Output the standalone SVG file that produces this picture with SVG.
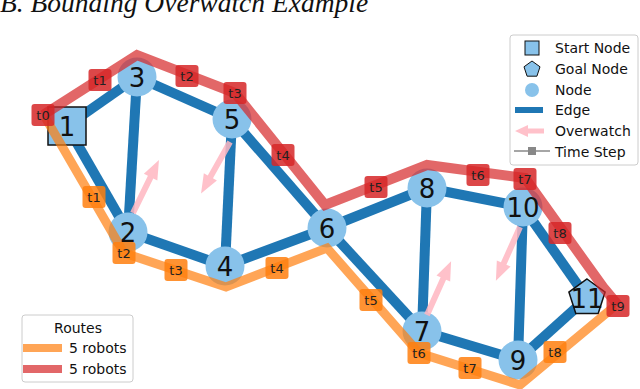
<svg xmlns="http://www.w3.org/2000/svg" xmlns:xlink="http://www.w3.org/1999/xlink" width="640" height="389" viewBox="0 0 640 389">
<style>
.edge{stroke:#1f77b4;stroke-width:10;stroke-linecap:butt;fill:none}
.node{fill:#88c2ea}
.nl{font-family:"DejaVu Sans",sans-serif;font-size:26px;fill:#111;text-anchor:middle;dominant-baseline:central}
.red{stroke:#d62728;stroke-opacity:0.7;stroke-width:10;fill:none;stroke-linejoin:miter}
.org{stroke:#ff7f0e;stroke-opacity:0.7;stroke-width:9;fill:none;stroke-linejoin:miter}
.tr{fill:#d62728;fill-opacity:0.85}
.to{fill:#ff7f0e;fill-opacity:0.85}
.tt{font-family:"DejaVu Sans",sans-serif;font-size:13px;fill:#222;text-anchor:middle;dominant-baseline:central}
.ow{fill:#ffb6c1;fill-opacity:0.85}
.lt{font-family:"DejaVu Sans",sans-serif;font-size:14px;fill:#111}
.lbox{fill:#fff;fill-opacity:0.85;stroke:#cccccc;stroke-width:1}
</style>
<defs>
<path id="arrow" d="M0,-3 L40,-3 L40,-7.5 L59,0 L40,7.5 L40,3 L0,3 Z"/>
<rect id="ts" x="-11.5" y="-11" width="23" height="22" rx="3"/>
</defs>

<text x="0" y="12" font-family="Liberation Serif, serif" font-style="italic" font-size="27.5" fill="#111">B.  Bounding Overwatch Example</text>

<g id="connectors">
<line class="edge" x1="67" y1="126" x2="137" y2="77"/>
<line class="edge" x1="67" y1="126" x2="128" y2="232"/>
<line class="edge" x1="137" y1="77" x2="128" y2="232"/>
<line class="edge" x1="137" y1="77" x2="232" y2="119"/>
<line class="edge" x1="232" y1="119" x2="225" y2="266"/>
<line class="edge" x1="232" y1="119" x2="327" y2="228"/>
<line class="edge" x1="128" y1="232" x2="225" y2="266"/>
<line class="edge" x1="225" y1="266" x2="327" y2="228"/>
<line class="edge" x1="327" y1="228" x2="427" y2="188"/>
<line class="edge" x1="327" y1="228" x2="422" y2="331"/>
<line class="edge" x1="427" y1="188" x2="422" y2="331"/>
<line class="edge" x1="427" y1="188" x2="523" y2="207"/>
<line class="edge" x1="523" y1="207" x2="518" y2="360"/>
<line class="edge" x1="523" y1="207" x2="587" y2="298"/>
<line class="edge" x1="422" y1="331" x2="518" y2="360"/>
<line class="edge" x1="518" y1="360" x2="587" y2="298"/>
</g>

<g id="n1"><rect class="node" x="48" y="107" width="38" height="38" stroke="#111" stroke-width="1.5"/></g>
<g id="n2"><circle class="node" cx="128" cy="232" r="19.5"/></g>
<g id="n3"><circle class="node" cx="137" cy="77" r="19.5"/></g>
<g id="n4"><circle class="node" cx="225" cy="266" r="19.5"/></g>
<g id="n5"><circle class="node" cx="232" cy="119" r="19.5"/></g>
<g id="n6"><circle class="node" cx="327" cy="228" r="19.5"/></g>
<g id="n7"><circle class="node" cx="422" cy="331" r="19.5"/></g>
<g id="n8"><circle class="node" cx="427" cy="188" r="19.5"/></g>
<g id="n9"><circle class="node" cx="518" cy="360" r="19.5"/></g>
<g id="n10"><circle class="node" cx="523" cy="207" r="19.5"/></g>
<g id="n11"><polygon class="node" points="587,279 605.1,292.1 598.2,313.4 575.8,313.4 568.9,292.1" stroke="#111" stroke-width="1.5"/></g>

<g id="routes">
<polyline class="org" points="45,117 124,253 226,287 327,248 419,353 520,385 615,306"/>
<polyline class="red" points="43,115 137,55 235,93 325,205 427,165 525,178 603,287 618,305"/>
</g>

<g id="overwatch">
<use xlink:href="#arrow" class="ow" transform="translate(133,213) rotate(-63.9)"/>
<use xlink:href="#arrow" class="ow" transform="translate(230,142) rotate(119.4)"/>
<use xlink:href="#arrow" class="ow" transform="translate(427,315) rotate(-65.9)"/>
<use xlink:href="#arrow" class="ow" transform="translate(520,227) rotate(114.1)"/>
</g>

<g id="node-labels">
<text class="nl" x="67" y="127">1</text>
<text class="nl" x="128" y="233">2</text>
<text class="nl" x="137" y="78">3</text>
<text class="nl" x="225" y="267">4</text>
<text class="nl" x="232" y="120">5</text>
<text class="nl" x="327" y="229">6</text>
<text class="nl" x="422" y="332">7</text>
<text class="nl" x="427" y="189">8</text>
<text class="nl" x="518" y="361">9</text>
<text class="nl" x="523" y="208">10</text>
<text class="nl" x="587" y="299">11</text>
</g>

<g id="timesteps">
<use xlink:href="#ts" class="to" x="94" y="197"/><text class="tt" x="94" y="197">t1</text>
<use xlink:href="#ts" class="to" x="124" y="253"/><text class="tt" x="124" y="253">t2</text>
<use xlink:href="#ts" class="to" x="176" y="270"/><text class="tt" x="176" y="270">t3</text>
<use xlink:href="#ts" class="to" x="277" y="268"/><text class="tt" x="277" y="268">t4</text>
<use xlink:href="#ts" class="to" x="371" y="300"/><text class="tt" x="371" y="300">t5</text>
<use xlink:href="#ts" class="to" x="419" y="353"/><text class="tt" x="419" y="353">t6</text>
<use xlink:href="#ts" class="to" x="470" y="368"/><text class="tt" x="470" y="368">t7</text>
<use xlink:href="#ts" class="to" x="555" y="352"/><text class="tt" x="555" y="352">t8</text>
<use xlink:href="#ts" class="tr" x="43" y="115"/><text class="tt" x="43" y="115">t0</text>
<use xlink:href="#ts" class="tr" x="100" y="80"/><text class="tt" x="100" y="80">t1</text>
<use xlink:href="#ts" class="tr" x="187" y="76"/><text class="tt" x="187" y="76">t2</text>
<use xlink:href="#ts" class="tr" x="235" y="93"/><text class="tt" x="235" y="93">t3</text>
<use xlink:href="#ts" class="tr" x="283" y="155"/><text class="tt" x="283" y="155">t4</text>
<use xlink:href="#ts" class="tr" x="376" y="187"/><text class="tt" x="376" y="187">t5</text>
<use xlink:href="#ts" class="tr" x="478" y="175"/><text class="tt" x="478" y="175">t6</text>
<use xlink:href="#ts" class="tr" x="525" y="179"/><text class="tt" x="525" y="179">t7</text>
<use xlink:href="#ts" class="tr" x="560" y="233"/><text class="tt" x="560" y="233">t8</text>
<use xlink:href="#ts" class="tr" x="618" y="306"/><text class="tt" x="618" y="306">t9</text>
</g>

<g id="legend">
<rect class="lbox" x="510" y="35" width="128" height="130" rx="3"/>
<rect x="525" y="41" width="14" height="14" fill="#88c2ea" stroke="#111" stroke-width="1"/>
<text class="lt" x="555" y="53">Start Node</text>
<polygon points="532,61 540,66.8 536.9,76.2 527.1,76.2 524,66.8" fill="#88c2ea" stroke="#111" stroke-width="1"/>
<text class="lt" x="555" y="74">Goal Node</text>
<circle cx="532" cy="90" r="7" fill="#88c2ea"/>
<text class="lt" x="555" y="95">Node</text>
<rect x="515" y="107" width="28" height="6" fill="#1f77b4"/>
<text class="lt" x="555" y="115">Edge</text>
<path class="ow" d="M544,128.5 L528,128.5 L528,125 L515,131 L528,137 L528,133.5 L544,133.5 Z"/>
<text class="lt" x="555" y="136">Overwatch</text>
<line x1="514" y1="151" x2="550" y2="151" stroke="#888" stroke-width="1.5"/>
<rect x="528" y="147" width="8" height="8" fill="#888"/>
<text class="lt" x="555" y="157">Time Step</text>
</g>

<g id="routes-legend">
<rect class="lbox" x="22" y="315" width="111" height="67" rx="3"/>
<text class="lt" x="78" y="333" text-anchor="middle">Routes</text>
<rect x="23" y="344" width="39" height="8" fill="#ff7f0e" fill-opacity="0.7"/>
<text class="lt" x="69" y="353">5 robots</text>
<rect x="23" y="365" width="39" height="8" fill="#d62728" fill-opacity="0.7"/>
<text class="lt" x="69" y="374">5 robots</text>
</g>
</svg>
